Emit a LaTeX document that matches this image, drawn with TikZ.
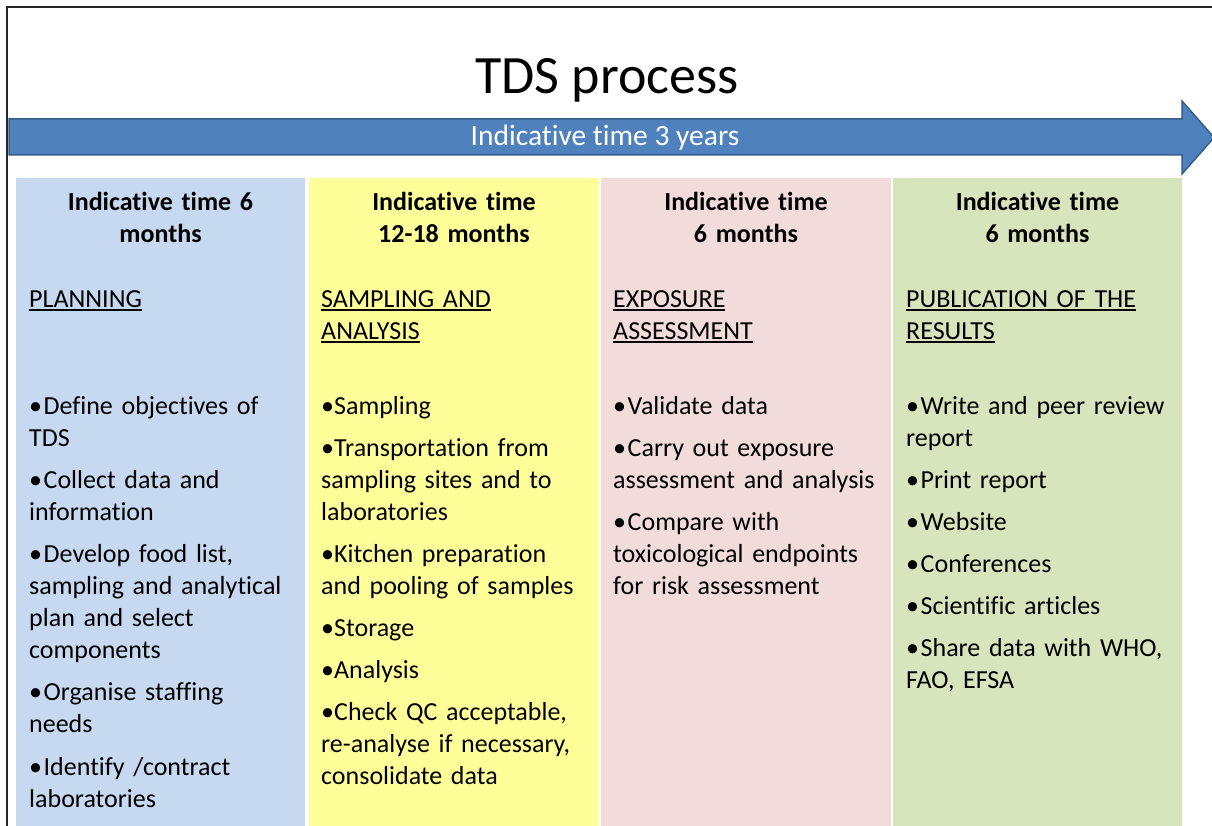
\documentclass[tikz,border=0pt]{standalone}
\usepackage{fontspec}
\setmainfont{Carlito}[Ligatures=NoCommon]
\definecolor{colblue}{HTML}{C6D9F0}
\definecolor{colyellow}{HTML}{FFFF99}
\definecolor{colpink}{HTML}{F2DCDB}
\definecolor{colgreen}{HTML}{D7E4BC}
\definecolor{arrowfill}{HTML}{4F81BD}
\definecolor{arrowline}{HTML}{385D8A}
\newcommand\myul[1]{\leavevmode\setbox0\hbox{#1}\rlap{\rule[-3.6pt]{\wd0}{1.7pt}}\box0}
\newcommand\bul{\leavevmode\makebox[14.5pt][l]{\textbullet}}
\tikzset{
  colhead/.style={anchor=base, inner sep=0pt, text width=280pt, align=center,
    font=\fontsize{26}{32}\selectfont\bfseries},
  coltitle/.style={anchor=base west, inner sep=0pt, text width=275pt, align=left,
    font=\fontsize{26}{32}\selectfont},
  colbody/.style={anchor=base west, inner sep=0pt, text width=285pt, align=left,
    font=\fontsize{26}{32}\selectfont},
}
\begin{document}
\begin{tikzpicture}[x=1pt,y=-1pt]
\useasboundingbox (0,0) rectangle (1212,826);
\clip (0,0) rectangle (1212,826);
\fill[white] (0,0) rectangle (1212,826);
% frame
\draw[line width=2pt, black!85] (7,840) -- (7,7) -- (1230,7);
% columns
\fill[colblue]   (16,178)  rectangle (305,830);
\fill[colyellow] (309,178) rectangle (599,830);
\fill[colpink]   (601,178) rectangle (891,830);
\fill[colgreen]  (893,178) rectangle (1182,830);
% arrow
\draw[fill=arrowfill, draw=arrowline, line width=1.5pt, line join=miter]
  (9,119) -- (1182,119) -- (1182,101) -- (1214,137.5) -- (1182,174) -- (1182,155) -- (9,155) -- cycle;
% title
\node[anchor=base, inner sep=0pt, font=\fontsize{54}{60}\selectfont] (title) at (607,94) {TDS process};
\node[anchor=base, inner sep=0pt, text=white, font=\fontsize{29.5}{34}\selectfont] (span) at (605,146) {Indicative time 3 years};
% headers
\node[colhead] (h1) at (160.5,211) {Indicative time 6\\months};
\node[colhead] (h2) at (454,211) {Indicative time\\12-18 months};
\node[colhead] (h3) at (746,211) {Indicative time\\6 months};
\node[colhead] (h4) at (1037.5,211) {Indicative time\\6 months};
% section titles
\node[coltitle] (t1) at (29,307) {\myul{PLANNING}};
\node[coltitle] (t2) at (321,307) {\myul{SAMPLING AND}\\\myul{ANALYSIS}};
\node[coltitle] (t3) at (613,307) {\myul{EXPOSURE}\\\myul{ASSESSMENT}};
\node[coltitle] (t4) at (906,307) {\myul{PUBLICATION OF THE}\\\myul{RESULTS}};
% bodies
\node[colbody] (b1) at (29,414) {\bul Define objectives of\\TDS\\[10pt]
\bul Collect data and\\information\\[10pt]
\bul Develop food list,\\sampling and analytical\\plan and select\\components\\[10pt]
\bul Organise staffing\\needs\\[11pt]
\bul Identify /contract\\laboratories};
\node[colbody] (b2) at (321,414) {\textbullet Sampling\\[10pt]
\textbullet Transportation from\\sampling sites and to\\laboratories\\[10pt]
\textbullet Kitchen preparation\\and pooling of samples\\[10pt]
\textbullet Storage\\[10pt]
\textbullet Analysis\\[10pt]
\textbullet Check QC acceptable,\\re-analyse if necessary,\\consolidate data};
\node[colbody] (b3) at (613,414) {\bul Validate data\\[10pt]
\bul Carry out exposure\\assessment and analysis\\[10pt]
\bul Compare with\\toxicological endpoints\\for risk assessment};
\node[colbody] (b4) at (906,414) {\bul Write and peer review\\report\\[10pt]
\bul Print report\\[10pt]
\bul Website\\[10pt]
\bul Conferences\\[10pt]
\bul Scientific articles\\[10pt]
\bul Share data with WHO,\\FAO, EFSA};
\end{tikzpicture}
\end{document}
